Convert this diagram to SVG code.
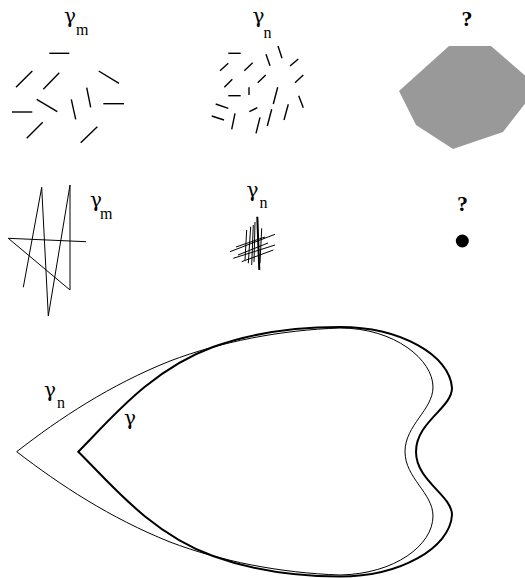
<svg xmlns="http://www.w3.org/2000/svg" width="525" height="578" viewBox="0 0 525 578">
<style>
.lbl{font-family:"Liberation Serif","Times New Roman",serif;fill:#000}
.g{font-family:"DejaVu Serif",serif;font-size:20px}
.s{font-size:16px}
.q{font-size:22px;font-weight:bold;text-anchor:middle}
.seg{stroke:#000;stroke-width:1.4;fill:none;stroke-linecap:butt}
.thin{stroke:#000;stroke-width:1;fill:none}
.thick{stroke:#000;stroke-width:2;fill:none}
</style>
<rect width="525" height="578" fill="#fff"/>

<g id="panel-gamma-m-segments">
<text class="lbl g" x="64" y="23">γ</text><text class="lbl s" x="76" y="34.5">m</text>
<g class="seg">
<line x1="49.3" y1="53.3" x2="69.3" y2="53.3"/>
<line x1="16" y1="87.3" x2="32.3" y2="71"/>
<line x1="43.3" y1="89.3" x2="59.3" y2="72.7"/>
<line x1="98.7" y1="71" x2="119" y2="83.3"/>
<line x1="36.7" y1="99.3" x2="57.3" y2="111.7"/>
<line x1="12" y1="112" x2="32.3" y2="112"/>
<line x1="71.3" y1="99.3" x2="75.7" y2="119.3"/>
<line x1="86.7" y1="87.7" x2="90.7" y2="107.3"/>
<line x1="103.3" y1="103.7" x2="124" y2="103.7"/>
<line x1="26.7" y1="138.3" x2="42.7" y2="122.3"/>
<line x1="80.7" y1="142.7" x2="97.3" y2="126.7"/>
</g>
</g>

<g id="panel-gamma-n-segments">
<text class="lbl g" x="252.5" y="23">γ</text><text class="lbl s" x="263.5" y="37.5">n</text>
<g class="seg">
<line x1="228.3" y1="53.3" x2="240.7" y2="53.3"/>
<line x1="220" y1="70.7" x2="228.3" y2="63.3"/>
<line x1="244.3" y1="70.7" x2="252.7" y2="62.7"/>
<line x1="266" y1="54.3" x2="270" y2="65.7"/>
<line x1="278" y1="46" x2="282" y2="58.3"/>
<line x1="290" y1="66" x2="298.3" y2="59"/>
<line x1="224.3" y1="87.3" x2="232.3" y2="79.3"/>
<line x1="257.7" y1="82.7" x2="265.7" y2="75"/>
<line x1="295" y1="82.7" x2="303.3" y2="75"/>
<line x1="228.3" y1="95.7" x2="240.7" y2="95.7"/>
<line x1="249" y1="87.3" x2="249" y2="95"/>
<line x1="277.7" y1="87.3" x2="273.3" y2="104"/>
<line x1="298.7" y1="95.7" x2="303.3" y2="107.7"/>
<line x1="215.7" y1="104" x2="228.3" y2="108.3"/>
<line x1="211.7" y1="116" x2="224" y2="120"/>
<line x1="249.3" y1="111.7" x2="257.3" y2="107.7"/>
<line x1="235" y1="113.3" x2="231.7" y2="129.3"/>
<line x1="271.7" y1="109.3" x2="267.3" y2="126"/>
<line x1="288.3" y1="104.3" x2="284" y2="120"/>
<line x1="260" y1="117.3" x2="256" y2="133.3"/>
</g>
</g>

<g id="panel-limit-polygon">
<text class="lbl q" x="467" y="26">?</text>
<polygon points="449,46 491,46 528,78 528,100 503,132 453,149 416,125 399,91" fill="#999"/>
</g>

<g id="panel-gamma-m-polyline">
<polyline class="thin" points="23.3,287.3 41.7,187.3 48.3,316 70,185 70,290 8.3,238.3 86,241.7"/>
<text class="lbl g" x="90" y="207">γ</text><text class="lbl s" x="100" y="218.5">m</text>
</g>

<g id="panel-gamma-n-scribble">
<text class="lbl g" x="246.5" y="197">γ</text><text class="lbl s" x="259.5" y="208">n</text>
<g class="thin" stroke-width="1.2">
<line x1="246.7" y1="230" x2="245" y2="260"/>
<line x1="250.7" y1="226.7" x2="248.3" y2="263.3"/>
<line x1="253.3" y1="225" x2="251.7" y2="265"/>
<line x1="257.3" y1="216.7" x2="259.3" y2="270" stroke-width="2"/>
<line x1="261.7" y1="228.3" x2="260" y2="263.3"/>
<line x1="255" y1="222" x2="254" y2="262"/>
<line x1="230" y1="251.7" x2="275" y2="234.3"/>
<line x1="233.3" y1="258.3" x2="275" y2="245"/>
<line x1="241.7" y1="261.7" x2="273.3" y2="250"/>
<line x1="236" y1="247" x2="265" y2="237"/>
<line x1="238" y1="255" x2="268" y2="243"/>
</g>
</g>

<g id="panel-limit-point">
<text class="lbl q" x="462.5" y="211">?</text>
<circle cx="462.3" cy="241" r="6.5" fill="#000"/>
</g>

<g id="heart-gamma-n">
<path class="thin" d="M16.7,451.7 C60,418 110,385 170,361 C220,342 280,330 340,328 C395,328 433,360 433,387 C433,410 405,425 405,451.7 C405,478 433,493 433,516 C433,545 395,574 340,575 C280,573 220,561 170,542 C110,518 60,485 16.7,451.7 Z"/>
<text class="lbl g" x="44" y="397">γ</text><text class="lbl s" x="57" y="408">n</text>
</g>

<g id="heart-gamma">
<path class="thick" d="M78.3,451.7 C110,420 150,370 213,347 C257,331 300,327 340,327 C400,327 450,355 452,388 C452,408 416,422 416,451.7 C416,481 452,495 452,515 C450,548 400,576.5 340,576.5 C300,576.5 257,572 213,556 C150,533 110,483 78.3,451.7 Z"/>
<text class="lbl g" x="124" y="425">γ</text>
</g>
</svg>
